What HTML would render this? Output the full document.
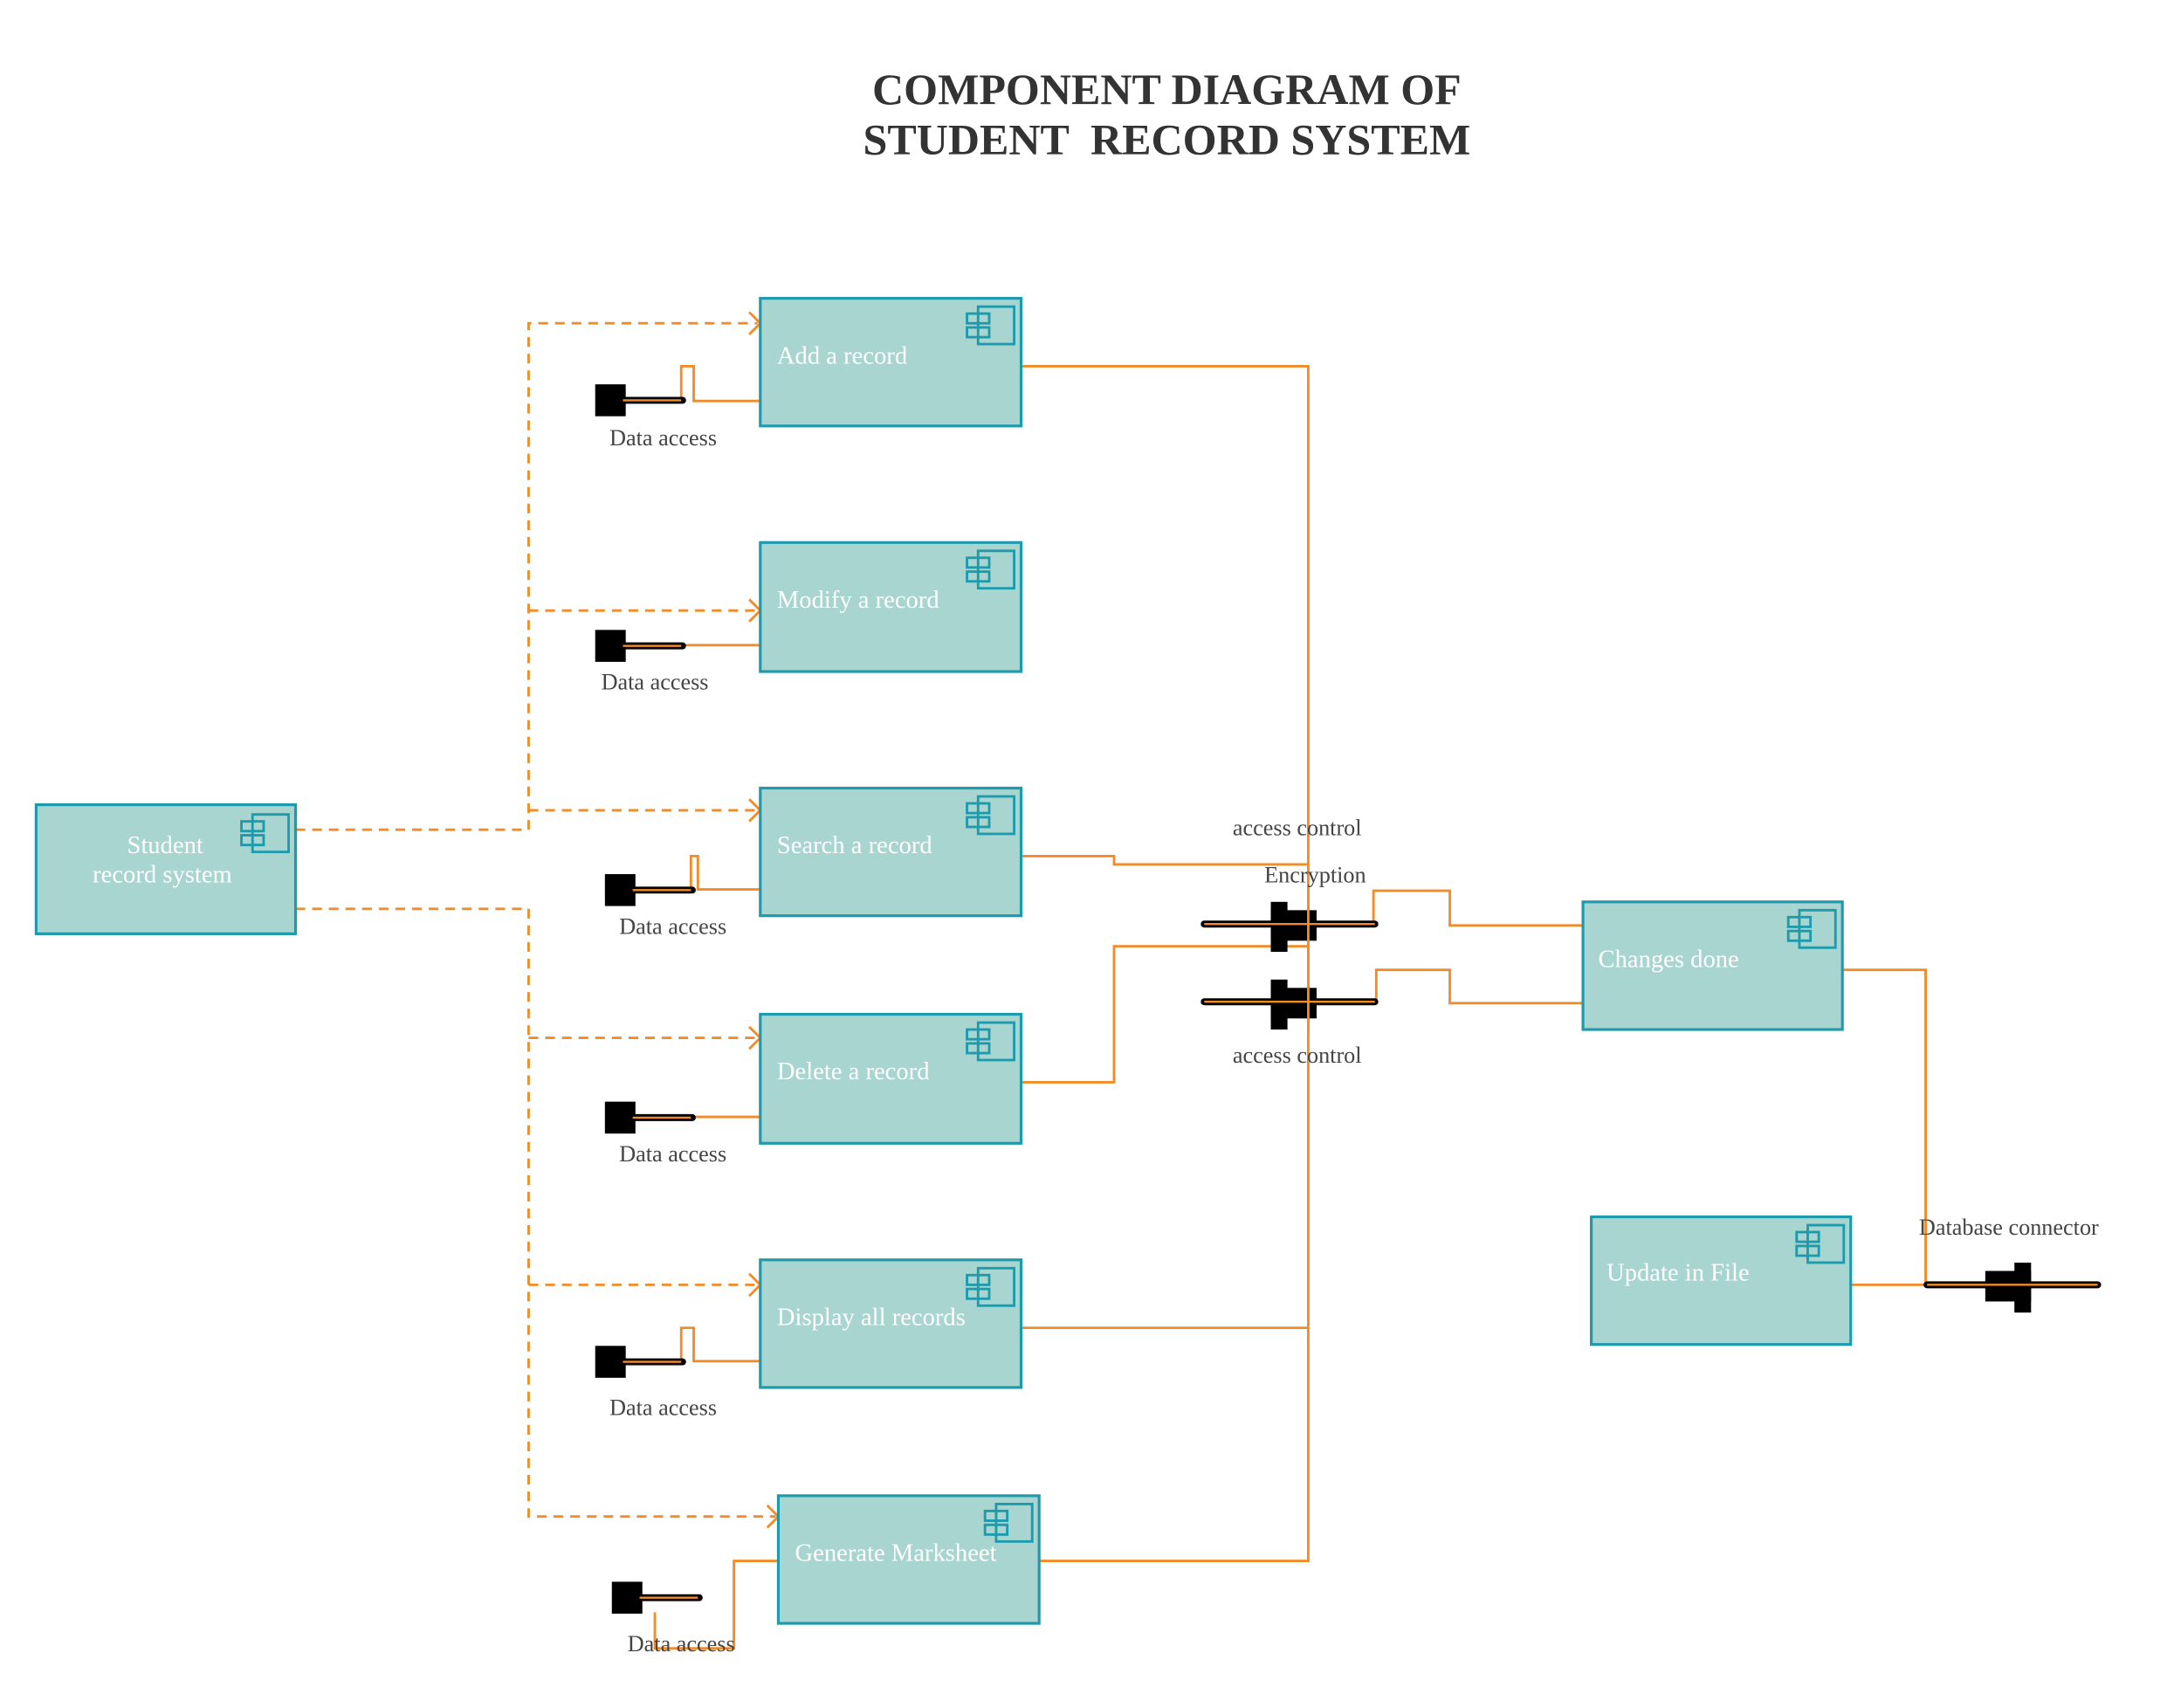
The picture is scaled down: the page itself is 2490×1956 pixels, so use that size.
<!DOCTYPE html>
<html><head><meta charset="utf-8"><style>
html,body{margin:0;padding:0;background:#fff;}
svg{display:block;}
text{font-family:"Liberation Serif",serif;}
.b{fill:#a8d5d0;stroke:#1e9aad;stroke-width:2;}
.t{fill:#fff;font-size:18px;}
.l{fill:#444;font-size:16.5px;}
.o{fill:none;stroke:#f28c28;stroke-width:1.8;}
.d{fill:none;stroke:#f28c28;stroke-width:1.8;stroke-dasharray:7,5;}
.ic{fill:none;stroke:#1e9aad;stroke-width:1.8;}
</style></head><body>
<svg width="2490" height="1956" viewBox="0 0 1567 1231" xmlns="http://www.w3.org/2000/svg">
<defs>
<g id="icon"><rect class="ic" x="8" y="0" width="26" height="27"/><rect class="ic" x="0" y="5" width="16" height="7" fill="#a8d5d0"/><rect class="ic" x="0" y="15" width="16" height="7" fill="#a8d5d0"/></g>
<g id="lol"><rect x="0" y="0" width="22" height="23" fill="#000"/><line x1="20" y1="11.5" x2="63" y2="11.5" stroke="#000" stroke-width="5" stroke-linecap="round"/><line x1="20" y1="11.5" x2="62" y2="11.5" stroke="#f28c28" stroke-width="1.5"/></g>
<g id="sock"><line x1="0" y1="0" x2="123" y2="0" stroke="#000" stroke-width="5" stroke-linecap="round"/><rect x="48" y="-16" width="12" height="36" fill="#000"/><rect x="48" y="-10" width="33" height="22" fill="#000"/><line x1="0" y1="0" x2="123" y2="0" stroke="#f28c28" stroke-width="1.5"/></g>
</defs>
<text x="841" y="75" text-anchor="middle" font-size="31.5" font-weight="bold" fill="#333">COMPONENT DIAGRAM OF</text>
<text x="841" y="111" text-anchor="middle" font-size="31.5" font-weight="bold" fill="#333" xml:space="preserve">STUDENT  RECORD SYSTEM</text>

<path class="d" d="M213 598 H381 V233 H546"/>
<path class="d" d="M381 440 H546"/>
<path class="d" d="M381 584 H546"/>
<path class="d" d="M213 655 H381 V1093 H559"/>
<path class="d" d="M381 748 H546"/>
<path class="d" d="M381 926 H546"/>
<g class="o">
<path d="M540 225 L548 233 L540 241"/><path d="M540 432 L548 440 L540 448"/><path d="M540 576 L548 584 L540 592"/>
<path d="M540 740 L548 748 L540 756"/><path d="M540 918 L548 926 L540 934"/><path d="M553 1085 L561 1093 L553 1101"/>
</g>

<path class="o" d="M736 264 H943 V1125 H749"/>
<path class="o" d="M736 957 H943"/>
<path class="o" d="M736 617 H803 V623 H943"/>
<path class="o" d="M736 780 H803 V682 H943"/>
<path class="o" d="M990 666 V642 H1045 V667 H1141"/>
<path class="o" d="M992 722 V699 H1045 V723 H1141"/>
<path class="o" d="M1328 699 H1388 V926"/>
<path class="o" d="M1334 926 H1392"/>
<path class="o" d="M493 289 H491 V264 H500 V289 H548"/>
<path class="o" d="M493 465 H548"/>
<path class="o" d="M500 641 H498 V617 H503 V641 H548"/>
<path class="o" d="M500 805 H548"/>
<path class="o" d="M493 981 H491 V957 H500 V981 H548"/>
<path class="o" d="M472 1162 V1188 H529 V1125 H561"/>

<rect class="b" x="26" y="580" width="187" height="93"/>
<use href="#icon" x="174" y="587"/>
<text class="t" x="119" y="615" text-anchor="middle">Student</text>
<text class="t" x="117" y="636" text-anchor="middle">record system</text>

<rect class="b" x="548" y="215" width="188" height="92"/><use href="#icon" x="697" y="221"/><text class="t" x="560" y="262">Add a record</text>
<rect class="b" x="548" y="391" width="188" height="93"/><use href="#icon" x="697" y="397"/><text class="t" x="560" y="438">Modify a record</text>
<rect class="b" x="548" y="568" width="188" height="92"/><use href="#icon" x="697" y="574"/><text class="t" x="560" y="615">Search a record</text>
<rect class="b" x="548" y="731" width="188" height="93"/><use href="#icon" x="697" y="737"/><text class="t" x="560" y="778">Delete a record</text>
<rect class="b" x="548" y="908" width="188" height="92"/><use href="#icon" x="697" y="914"/><text class="t" x="560" y="955">Display all records</text>
<rect class="b" x="561" y="1078" width="188" height="92"/><use href="#icon" x="710" y="1084"/><text class="t" x="573" y="1125">Generate Marksheet</text>
<rect class="b" x="1141" y="650" width="187" height="92"/><use href="#icon" x="1289" y="656"/><text class="t" x="1152" y="697">Changes done</text>
<rect class="b" x="1147" y="877" width="187" height="92"/><use href="#icon" x="1295" y="883"/><text class="t" x="1158" y="923">Update in File</text>

<use href="#lol" x="429" y="277"/><text class="l" x="478" y="321" text-anchor="middle">Data access</text>
<use href="#lol" x="429" y="454"/><text class="l" x="472" y="497" text-anchor="middle">Data access</text>
<use href="#lol" x="436" y="630"/><text class="l" x="485" y="673" text-anchor="middle">Data access</text>
<use href="#lol" x="436" y="794"/><text class="l" x="485" y="837" text-anchor="middle">Data access</text>
<use href="#lol" x="429" y="970"/><text class="l" x="478" y="1020" text-anchor="middle">Data access</text>
<use href="#lol" x="441" y="1140"/><text class="l" x="491" y="1190" text-anchor="middle">Data access</text>

<use href="#sock" x="868" y="666"/>
<use href="#sock" x="868" y="722"/>
<g transform="translate(1512,926) scale(-1,1)"><use href="#sock" x="0" y="0"/></g>
<line x1="943" y1="640" x2="943" y2="745" stroke="#f28c28" stroke-width="1.8"/>
<text class="l" x="935" y="602" text-anchor="middle">access control</text>
<text class="l" x="948" y="636" text-anchor="middle">Encryption</text>
<text class="l" x="935" y="766" text-anchor="middle">access control</text>
<text class="l" x="1448" y="890" text-anchor="middle">Database connector</text>
</svg>
</body></html>
